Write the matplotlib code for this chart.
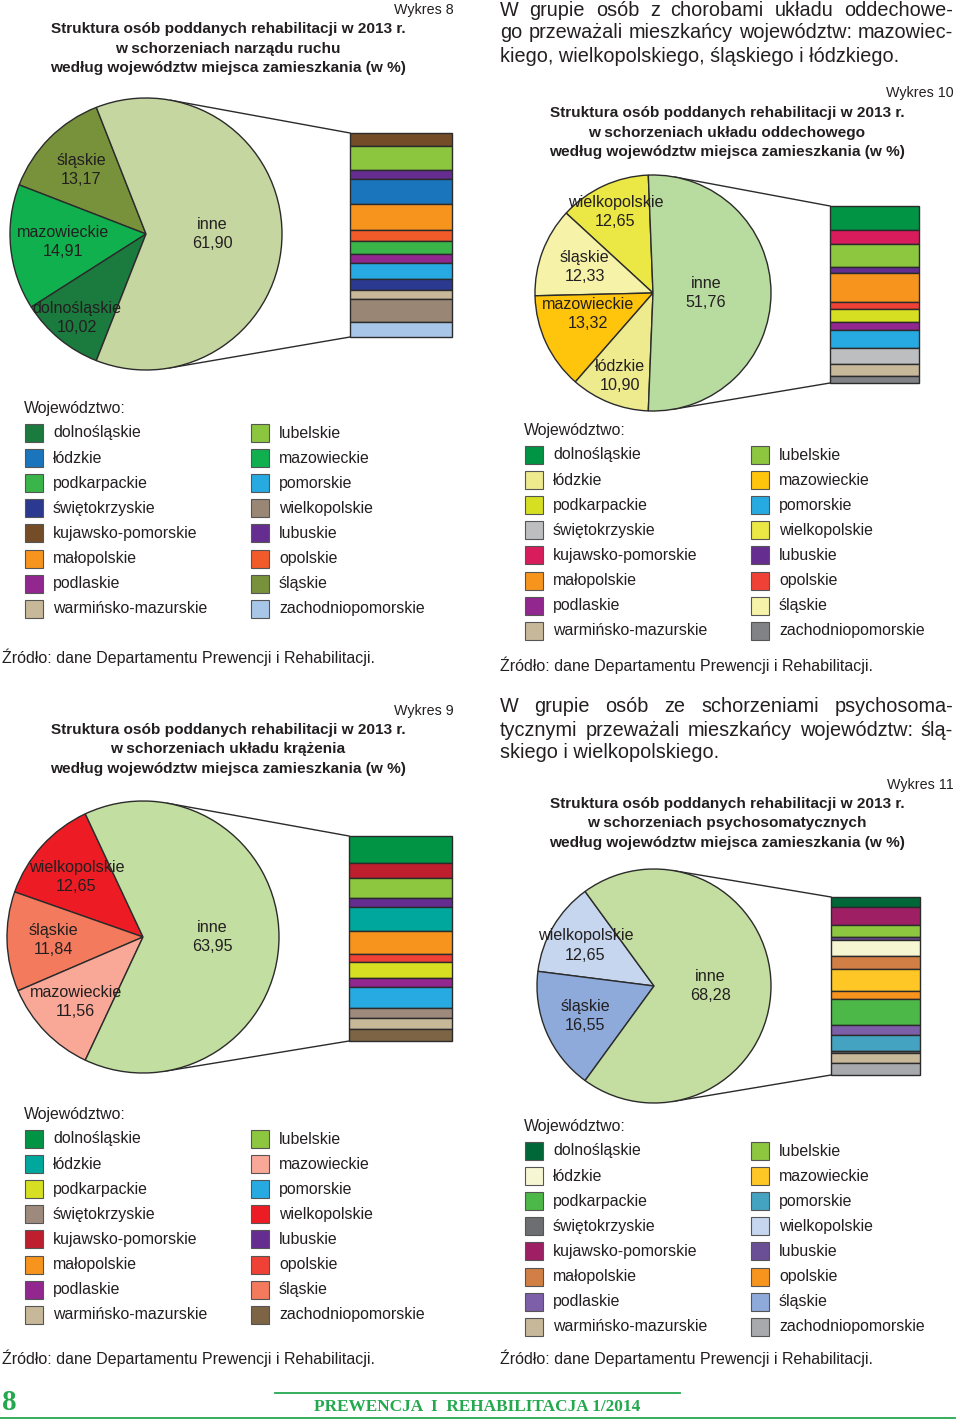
import numpy as np
import matplotlib
matplotlib.use("Agg")
import matplotlib.pyplot as plt
from matplotlib.patches import Rectangle

plt.rcParams['font.family'] = ['Liberation Sans', 'DejaVu Sans']

# ---------------- data ----------------
VOIV = ["dolnośląskie", "kujawsko-pomorskie", "lubelskie", "lubuskie", "łódzkie",
        "małopolskie", "mazowieckie", "opolskie", "podkarpackie", "podlaskie",
        "pomorskie", "śląskie", "świętokrzyskie", "warmińsko-mazurskie",
        "wielkopolskie", "zachodniopomorskie"]

LEGEND_COL1 = ["dolnośląskie", "łódzkie", "podkarpackie", "świętokrzyskie",
               "kujawsko-pomorskie", "małopolskie", "podlaskie", "warmińsko-mazurskie"]
LEGEND_COL2 = ["lubelskie", "mazowieckie", "pomorskie", "wielkopolskie",
               "lubuskie", "opolskie", "śląskie", "zachodniopomorskie"]

TITLE_LINE1 = "Struktura osób poddanych rehabilitacji w 2013 r."
TITLE_LINE3 = "według województw miejsca zamieszkania (w %)"

# Wykres 8 – narząd ruchu
w8_slices = ["śląskie", "mazowieckie", "dolnośląskie"]
w8_values = [13.17, 14.91, 10.02]
w8_inne = 61.90
w8_bar_names = ["kujawsko-pomorskie", "lubelskie", "lubuskie", "łódzkie", "małopolskie",
                "opolskie", "podkarpackie", "podlaskie", "pomorskie", "świętokrzyskie",
                "warmińsko-mazurskie", "wielkopolskie", "zachodniopomorskie"]
w8_bar_values = [4.04, 7.07, 2.83, 7.47, 8.08, 3.13, 4.14, 2.63, 4.85, 3.23, 2.83, 6.97, 4.55]
w8_colors = ["#1b7a3e", "#754c28", "#8cc63f", "#662d91", "#1b75bc", "#f7941d", "#10b04f",
             "#f15a29", "#39b54a", "#92278f", "#27aae1", "#77923a", "#2b3990", "#c8b89a",
             "#998675", "#a8c6e8"]
w8_inne_color = "#c6d6a0"

# Wykres 9 – układ krążenia
w9_slices = ["wielkopolskie", "śląskie", "mazowieckie"]
w9_values = [12.65, 11.84, 11.56]
w9_inne = 63.95
w9_bar_names = ["dolnośląskie", "kujawsko-pomorskie", "lubelskie", "lubuskie", "łódzkie",
                "małopolskie", "opolskie", "podkarpackie", "podlaskie", "pomorskie",
                "świętokrzyskie", "warmińsko-mazurskie", "zachodniopomorskie"]
w9_bar_values = [8.32, 4.78, 6.34, 2.70, 7.49, 7.07, 2.70, 4.78, 2.91, 6.45, 3.12, 3.43, 3.85]
w9_colors = ["#009444", "#be1e2d", "#8dc63f", "#662d91", "#00a79d", "#f7941d", "#f9a898",
             "#ef4136", "#d7df23", "#92278f", "#27aae1", "#f37a5d", "#9e8a7c", "#c8b89a",
             "#ed1c24", "#7d6445"]
w9_inne_color = "#c2dea0"

# Wykres 10 – układ oddechowy
w10_slices = ["wielkopolskie", "śląskie", "mazowieckie", "łódzkie"]
w10_values = [12.65, 12.33, 13.32, 10.90]
w10_inne = 51.76
w10_bar_names = ["dolnośląskie", "kujawsko-pomorskie", "lubelskie", "lubuskie", "małopolskie",
                 "opolskie", "podkarpackie", "podlaskie", "pomorskie", "świętokrzyskie",
                 "warmińsko-mazurskie", "zachodniopomorskie"]
w10_bar_values = [6.90, 4.08, 6.80, 1.94, 8.26, 2.23, 3.69, 2.33, 5.44, 4.47, 3.50, 2.14]
w10_colors = ["#009444", "#d91c5c", "#8dc63f", "#662d91", "#eeea8e", "#f7941d", "#ffc40c",
              "#ef4136", "#d7df23", "#92278f", "#27aae1", "#f6f3a8", "#bcbec0", "#c8b89a",
              "#ebe745", "#808285"]
w10_inne_color = "#b8dba0"

# Wykres 11 – schorzenia psychosomatyczne
w11_slices = ["wielkopolskie", "śląskie"]
w11_values = [12.65, 16.55]
w11_inne = 68.28
w11_bar_names = ["dolnośląskie", "kujawsko-pomorskie", "lubelskie", "lubuskie", "łódzkie",
                 "małopolskie", "mazowieckie", "opolskie", "podkarpackie", "podlaskie",
                 "pomorskie", "świętokrzyskie", "warmińsko-mazurskie", "zachodniopomorskie"]
w11_bar_values = [3.97, 6.92, 4.48, 1.03, 6.15, 5.12, 8.45, 2.95, 9.86, 4.10, 5.89, 1.03, 3.84, 4.48]
w11_colors = ["#006838", "#9e1f63", "#8dc63f", "#6a4f96", "#f7f6d2", "#d17f45", "#ffc726",
              "#f7941d", "#4cb848", "#7d5ea8", "#43a3c0", "#8eaadb", "#6d6e71", "#c8b89a",
              "#c6d6ee", "#a7a9ac"]
w11_inne_color = "#c3dea0"

# ---------------- layout ----------------
W, H = 960, 1424
fig = plt.figure(figsize=(W / 100, H / 100), dpi=100)
ov = fig.add_axes([0, 0, 1, 1])
ov.set_xlim(0, W)
ov.set_ylim(H, 0)
ov.axis('off')

EDGE = "#2b2b2b"
TXT = "#231f20"
NARROW = ['Liberation Sans Narrow', 'Liberation Sans', 'DejaVu Sans']


def px_axes(x0, y0, x1, y1):
    return fig.add_axes([x0 / W, 1 - y1 / H, (x1 - x0) / W, (y1 - y0) / H])


def fmt(v):
    return f"{v:.2f}".replace('.', ',')


def pie_of_bar(slices, values, inne, colors, inne_color, bar_names, bar_values,
               cx, cy, r, bar_box, dists, inne_dist, angle_shift=None):
    cmap = dict(zip(VOIV, colors))
    m = 1.04
    ax = px_axes(cx - r * m, cy - r * m, cx + r * m, cy + r * m)
    vals = list(values) + [inne]
    frac = sum(values) / sum(vals)
    start = 180 - frac * 180
    wedges, _ = ax.pie(vals, colors=[cmap[s] for s in slices] + [inne_color],
                       startangle=start, counterclock=True, radius=1,
                       wedgeprops=dict(edgecolor=EDGE, linewidth=1.0))
    ax.set_xlim(-m, m)
    ax.set_ylim(-m, m)
    ax.axis('off')
    labels = list(slices) + ["inne"]
    shifts = angle_shift if angle_shift is not None else [0] * len(vals)
    for w, lab, v, d, sh in zip(wedges, labels, vals, list(dists) + [inne_dist], shifts):
        th = np.deg2rad((w.theta1 + w.theta2) / 2 + sh)
        ax.text(d * np.cos(th), d * np.sin(th), f"{lab}\n{fmt(v)}", ha='center',
                va='center', fontsize=11.6, color=TXT, linespacing=1.35)
    # stacked bar
    bx0, by0, bx1, by1 = bar_box
    bax = px_axes(bx0, by0, bx1, by1)
    total = sum(bar_values)
    bottoms = np.concatenate([[0], np.cumsum(bar_values)[:-1]])
    bars = bax.bar(0.5, bar_values, bottom=bottoms, width=1.0,
                   color=[cmap[n] for n in bar_names], edgecolor=EDGE, linewidth=1.0)
    for b in bars:
        b.set_clip_on(False)
    bax.set_xlim(0, 1)
    bax.set_ylim(total, 0)
    bax.axis('off')
    # connector lines tangent to the pie
    for (px, py), sgn in (((bx0, by0), 1), ((bx0, by1), -1)):
        dx, dy = px - cx, cy - py
        d = np.hypot(dx, dy)
        ang = np.arctan2(dy, dx) + sgn * np.arccos(r / d)
        tx, ty = cx + r * np.cos(ang), cy - r * np.sin(ang)
        ov.plot([tx, px], [ty, py], color=EDGE, lw=1.0)


def legend(colors, x0, ytitle):
    cmap = dict(zip(VOIV, colors))
    ov.text(x0, ytitle, "Województwo:", ha='left', va='center', fontsize=11.4, color=TXT)
    for ci, col in enumerate((LEGEND_COL1, LEGEND_COL2)):
        px = x0 + 1 + ci * 226
        for ri, name in enumerate(col):
            y = ytitle + 25 + ri * 25.1
            ov.add_patch(Rectangle((px, y - 9), 18, 18, facecolor=cmap[name],
                                   edgecolor="#555555", linewidth=0.8))
            ov.text(px + 28, y, name, ha='left', va='center', fontsize=11.4, color=TXT)


def header(num, xr, yw, xc, ytitle, line2):
    ov.text(xr, yw, f"Wykres {num}", ha='right', va='center', fontsize=10.3,
            color=TXT, family=NARROW)
    for i, t in enumerate([TITLE_LINE1, line2, TITLE_LINE3]):
        ov.text(xc, ytitle + i * 19.5, t, ha='center', va='center', fontsize=11.1,
                fontweight='bold', color=TXT)


def source(x, y):
    ov.text(x, y, "Źródło: dane Departamentu Prewencji i Rehabilitacji.", ha='left',
            va='center', fontsize=11.5, color=TXT)


PFS = 14.3


def paragraph(lines, x, y0, x_right):
    for i, t in enumerate(lines):
        y = y0 + i * 23
        if i < len(lines) - 1:
            words = t.split(' ')
            txts = []
            widths = []
            for wd in words:
                tt = ov.text(0, y, wd, ha='left', va='center', fontsize=PFS, color=TXT)
                txts.append(tt)
            fig.canvas.draw()
            inv = ov.transData.inverted()
            for tt in txts:
                bb = tt.get_window_extent()
                p0 = inv.transform((bb.x0, bb.y0))
                p1 = inv.transform((bb.x1, bb.y0))
                widths.append(p1[0] - p0[0])
            gap = (x_right - x - sum(widths)) / max(len(words) - 1, 1)
            cur = x
            for tt, wdt in zip(txts, widths):
                tt.set_x(cur)
                cur += wdt + gap
        else:
            ov.text(x, y, t, ha='left', va='center', fontsize=PFS, color=TXT)


# ---- Wykres 8 ----
header(8, 454, 10, 228, 29, "w schorzeniach narządu ruchu")
pie_of_bar(w8_slices, w8_values, w8_inne, w8_colors, w8_inne_color, w8_bar_names,
           w8_bar_values, 146, 234, 136, (350, 133, 452, 337), [0.67, 0.61, 0.80], 0.49)
legend(w8_colors, 24, 408)
source(2, 657)

# ---- paragraph + Wykres 10 ----
paragraph(["W grupie osób z chorobami układu oddechowe-",
           "go przeważali mieszkańcy województw: mazowiec-",
           "kiego, wielkopolskiego, śląskiego i łódzkiego."], 500, 10, 953)
header(10, 954, 93, 727, 113, "w schorzeniach układu oddechowego")
pie_of_bar(w10_slices, w10_values, w10_inne, w10_colors, w10_inne_color, w10_bar_names,
           w10_bar_values, 653, 293, 118, (830, 206, 919, 383), [0.76, 0.62, 0.58, 0.76], 0.45,
           angle_shift=[0, 0, -7, 0, 0])
legend(w10_colors, 524, 430)
source(500, 665)

# ---- Wykres 9 ----
header(9, 454, 711, 228, 730, "w schorzeniach układu krążenia")
pie_of_bar(w9_slices, w9_values, w9_inne, w9_colors, w9_inne_color, w9_bar_names,
           w9_bar_values, 143, 937, 136, (349, 836, 452, 1041), [0.66, 0.66, 0.69], 0.51)
legend(w9_colors, 24, 1114)
source(2, 1358)

# ---- paragraph + Wykres 11 ----
paragraph(["W grupie osób ze schorzeniami psychosoma-",
           "tycznymi przeważali mieszkańcy województw: ślą-",
           "skiego i wielkopolskiego."], 500, 707, 953)
header(11, 954, 785, 727, 804, "w schorzeniach psychosomatycznych")
pie_of_bar(w11_slices, w11_values, w11_inne, w11_colors, w11_inne_color, w11_bar_names,
           w11_bar_values, 654, 986, 117, (831, 897, 920, 1075), [0.68, 0.64], 0.48)
legend(w11_colors, 524, 1126)
source(500, 1358)

# ---- footer ----
GREEN = "#23a84e"
FOOT_FONT = ['Liberation Serif', 'DejaVu Serif']
ov.text(2, 1403, "8", ha='left', va='center', fontsize=21, fontweight='bold', color=GREEN,
        family=FOOT_FONT)
ov.plot([275, 680], [1393, 1393], color=GREEN, lw=1.3)
ov.plot([0, 955], [1418, 1418], color=GREEN, lw=1.3)
ov.text(477, 1407, "PREWENCJA  I  REHABILITACJA 1/2014", ha='center', va='center',
        fontsize=12.4, fontweight='bold', color=GREEN, family=FOOT_FONT)

fig.savefig("out.png", dpi=100)
